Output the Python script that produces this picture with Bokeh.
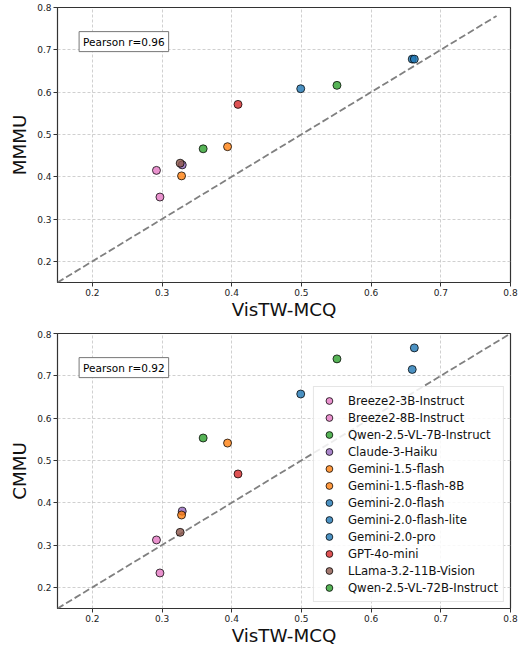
from bokeh.plotting import figure
from bokeh.layouts import column
from bokeh.models import Label, Legend, LegendItem, FixedTicker, Range1d
from bokeh.embed import file_html
from bokeh.resources import INLINE

models = ["Breeze2-3B-Instruct", "Breeze2-8B-Instruct", "Qwen-2.5-VL-7B-Instruct",
          "Claude-3-Haiku", "Gemini-1.5-flash", "Gemini-1.5-flash-8B",
          "Gemini-2.0-flash", "Gemini-2.0-flash-lite", "Gemini-2.0-pro",
          "GPT-4o-mini", "LLama-3.2-11B-Vision", "Qwen-2.5-VL-72B-Instruct"]
vistw = [0.297, 0.292, 0.359, 0.329, 0.394, 0.328, 0.659, 0.499, 0.662, 0.409, 0.326, 0.551]
mmmu = [0.352, 0.415, 0.466, 0.428, 0.471, 0.402, 0.678, 0.608, 0.678, 0.571, 0.432, 0.616]
cmmu = [0.234, 0.312, 0.553, 0.380, 0.541, 0.371, 0.715, 0.657, 0.766, 0.468, 0.330, 0.740]
colors = ["#e377c2", "#e377c2", "#2ca02c", "#9467bd", "#ff7f0e", "#ff7f0e",
          "#1f77b4", "#1f77b4", "#1f77b4", "#d62728", "#8c564b", "#2ca02c"]
ticks = [0.2, 0.3, 0.4, 0.5, 0.6, 0.7, 0.8]
axis_min, axis_max = 0.15, 0.8
diag_mmmu = [0.15, 0.78]
diag_cmmu = [0.15, 0.8]
pearson_mmmu = "Pearson r=0.96"
pearson_cmmu = "Pearson r=0.92"
x_label = "VisTW-MCQ"

FONT = "DejaVu Sans"


def make_panel(yvals, ylabel, diag, ptext, height, top, bottom, with_legend):
    p = figure(width=532, height=height,
               x_range=Range1d(axis_min, axis_max), y_range=Range1d(axis_min, axis_max),
               output_backend="svg", toolbar_location=None,
               min_border_left=57, min_border_right=22,
               min_border_top=top, min_border_bottom=bottom)
    p.outline_line_color = "#333333"
    p.outline_line_width = 1.2
    p.outline_line_alpha = 1.0
    p.background_fill_color = "white"
    p.border_fill_color = "white"
    for ax in (p.xaxis, p.yaxis):
        ax.ticker = FixedTicker(ticks=ticks)
        ax.axis_line_color = None
        ax.major_tick_in = 0
        ax.major_tick_out = 4
        ax.major_tick_line_color = "#333333"
        ax.minor_tick_line_color = None
        ax.major_label_text_font = FONT
        ax.major_label_text_font_size = "9px"
        ax.major_label_text_color = "#222222"
        ax.major_label_standoff = 2
        ax.axis_label_text_font = FONT
        ax.axis_label_text_font_size = "18.3px"
        ax.axis_label_text_font_style = "normal"
        ax.axis_label_text_color = "#111111"
    p.xaxis.axis_label_standoff = 0
    p.yaxis.axis_label_standoff = 4
    p.xaxis.axis_label = x_label
    p.yaxis.axis_label = ylabel
    p.grid.grid_line_color = "#c4c4c4"
    p.grid.grid_line_dash = "3 2"
    p.grid.grid_line_width = 0.8

    p.line(diag, diag, line_color="#808080", line_width=1.8, line_dash="7 3")

    items = []
    for m, xv, yv, c in zip(models, vistw, yvals, colors):
        r = p.scatter([xv], [yv], marker="circle", size=8, fill_color=c, fill_alpha=0.8,
                      line_color="black", line_alpha=0.75, line_width=1)
        items.append(LegendItem(label=m, renderers=[r]))

    lab = Label(x=0.181, y=0.743, text=ptext, text_baseline="top", text_align="left",
                text_font=FONT, text_font_size="10.5px", text_color="black",
                border_line_color="#777777", border_line_width=1,
                background_fill_color="white", padding=4)
    p.add_layout(lab)

    if with_legend:
        leg = Legend(items=items, location="bottom_right")
        leg.margin = 6
        leg.padding = 5
        leg.spacing = 0
        leg.glyph_height = 17
        leg.label_height = 17
        leg.glyph_width = 20
        leg.label_standoff = 9
        leg.label_text_font = FONT
        leg.label_text_font_size = "11.7px"
        leg.label_text_color = "#111111"
        leg.border_line_color = "#cccccc"
        leg.border_line_width = 1
        leg.background_fill_alpha = 0.85
        p.add_layout(leg)
    return p


p1 = make_panel(mmmu, "MMMU", diag_mmmu, pearson_mmmu, 330, 7, 48, False)
p2 = make_panel(cmmu, "CMMU", diag_cmmu, pearson_cmmu, 318, 3, 40, True)

layout = column(p1, p2, spacing=0)
open("out.html", "w").write(file_html(layout, INLINE))
